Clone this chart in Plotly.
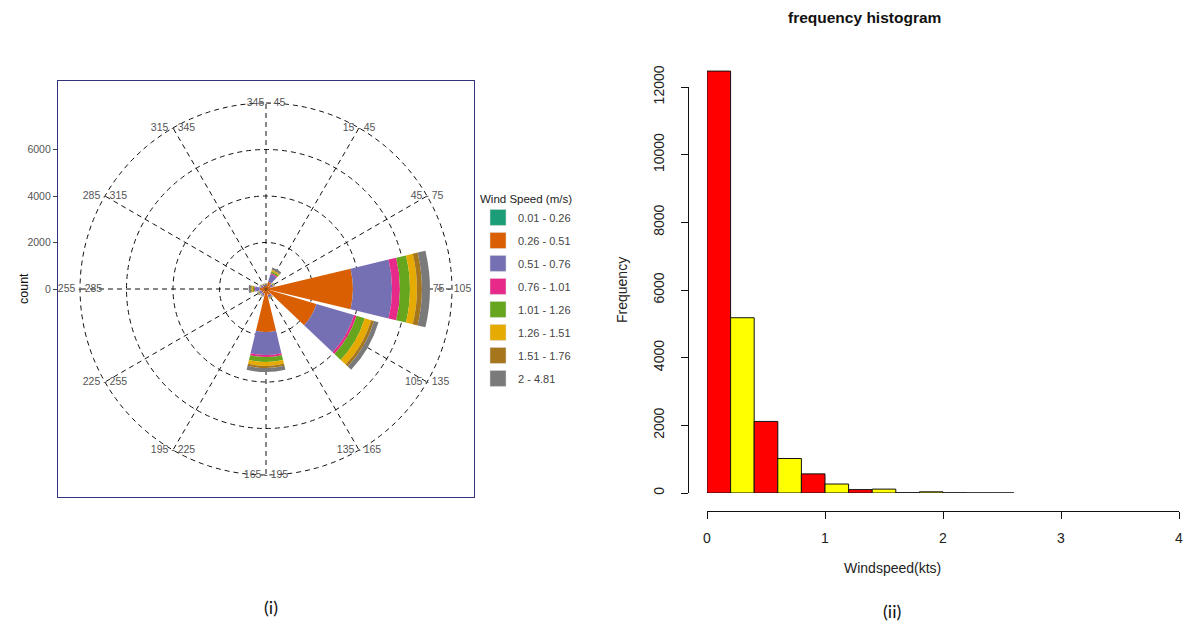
import plotly.graph_objects as go

W, H = 1190, 628

# ---------------- Wind rose data ----------------
sector_centers = [0, 30, 60, 90, 120, 150, 180, 210, 240, 270, 300, 330]
sector_labels = ["345 - 45", "15 - 45", "45 - 75", "75 - 105", "105 - 135", "135 - 165",
                 "165 - 195", "195 - 225", "225 - 255", "255 - 285", "285 - 315", "315 - 345"]
speed_bins = ["0.01 - 0.26", "0.26 - 0.51", "0.51 - 0.76", "0.76 - 1.01",
              "1.01 - 1.26", "1.26 - 1.51", "1.51 - 1.76", "2 - 4.81"]
speed_colors = ["#1B9E77", "#D95F02", "#7570B3", "#E7298A",
                "#66A61E", "#E6AB02", "#A6761D", "#7a7a7a"]
# counts per speed bin, one value per sector (sector order as above)
cnt_001_026 = [10, 20, 15, 40, 30, 20, 30, 15, 15, 20, 10, 10]
cnt_026_051 = [120, 300, 200, 3700, 2230, 250, 1820, 200, 180, 250, 150, 120]
cnt_051_076 = [60, 350, 100, 1680, 1690, 100, 990, 80, 100, 200, 80, 60]
cnt_076_101 = [10, 50, 15, 340, 110, 15, 85, 10, 15, 40, 10, 10]
cnt_101_126 = [15, 80, 25, 430, 370, 25, 215, 15, 25, 60, 15, 15]
cnt_126_151 = [10, 50, 15, 300, 290, 15, 170, 10, 15, 50, 10, 10]
cnt_151_176 = [5, 30, 10, 215, 130, 10, 90, 5, 10, 30, 5, 5]
cnt_2_481 = [20, 80, 20, 345, 200, 15, 170, 15, 40, 100, 20, 20]
speed_counts = [cnt_001_026, cnt_026_051, cnt_051_076, cnt_076_101,
                cnt_101_126, cnt_126_151, cnt_151_176, cnt_2_481]
radial_ticks = [0, 2000, 4000, 6000]
radial_grid = [2000, 4000, 6000]
outer_grid = 8000

# ---------------- Histogram data ----------------
bin_edges = [0.0, 0.2, 0.4, 0.6, 0.8, 1.0, 1.2, 1.4, 1.6, 1.8, 2.0, 2.2, 2.4, 2.6]
hist_counts = [12470, 5180, 2115, 1020, 565, 265, 100, 115, 8, 35, 6, 3, 2]
hist_colors = ["#FF0000", "#FFFF00"]
hist_yticks = [0, 2000, 4000, 6000, 8000, 10000, 12000]
hist_xticks = [0, 1, 2, 3, 4]

# ---------------- geometry ----------------
cx, cy = 266, 289          # rose centre (px)
r_px = 186                  # radius (px) of the outer grid circle
R_MAX = outer_grid * 1.006
r_dom = r_px * R_MAX / outer_grid
box_half = 208

fig = go.Figure()

# panel box + count axis (cartesian)
fig.add_trace(go.Scatter(x=[0], y=[0], mode="markers", marker=dict(opacity=0),
                         hoverinfo="skip", showlegend=False, xaxis="x2", yaxis="y2"))

for i, (name, col) in enumerate(zip(speed_bins, speed_colors)):
    fig.add_trace(go.Barpolar(
        r=speed_counts[i], theta=sector_centers, width=[27] * len(sector_centers),
        name=name, marker=dict(color=col, line=dict(width=0)),
        legendgroup=name, showlegend=False,
    ))
    # legend key (square swatch); its point lies outside the x2 range, so only the key shows
    fig.add_trace(go.Scatter(
        x=[10], y=[0], mode="markers", name=name, legendgroup=name,
        marker=dict(symbol="square", size=16, color=col,
                    line=dict(color="#dddddd", width=0.5)),
        cliponaxis=True, hoverinfo="skip", xaxis="x2", yaxis="y2"))

# outer dashed grid circle
circle_theta = list(range(0, 361, 2))
fig.add_trace(go.Scatterpolar(
    r=[outer_grid] * len(circle_theta), theta=circle_theta, mode="lines",
    line=dict(color="#111111", width=1, dash="5px,4px"),
    showlegend=False, hoverinfo="skip"))

fig.add_trace(go.Scatterpolar(
    r=[outer_grid] * len(sector_centers), theta=sector_centers, text=sector_labels,
    mode="text", textfont=dict(family="Liberation Sans, Arial", size=10.5, color="#555555"),
    showlegend=False, hoverinfo="skip", cliponaxis=False))

# histogram
centers = [(a + b) / 2 for a, b in zip(bin_edges[:-1], bin_edges[1:])]
widths = [b - a for a, b in zip(bin_edges[:-1], bin_edges[1:])]
fig.add_trace(go.Bar(
    x=centers, y=hist_counts, width=widths,
    marker=dict(color=[hist_colors[i % 2] for i in range(len(hist_counts))],
                line=dict(color="#111111", width=1)),
    showlegend=False, xaxis="x3", yaxis="y3"))
fig.add_trace(go.Scatter(x=[0], y=[0], mode="markers", marker=dict(opacity=0),
                         hoverinfo="skip", showlegend=False, xaxis="x3", yaxis="y4"))

px_per = (493 - 87) / 12000.0
y3_top = 55

fig.update_layout(
    template="none",
    width=W, height=H, margin=dict(l=0, r=0, t=0, b=0, pad=0, autoexpand=False),
    paper_bgcolor="white", plot_bgcolor="rgba(0,0,0,0)",
    font=dict(family="Liberation Sans, Arial", color="#222222"),
    polar=dict(
        domain=dict(x=[(cx - r_dom) / W, (cx + r_dom) / W],
                    y=[1 - (cy + r_dom) / H, 1 - (cy - r_dom) / H]),
        bgcolor="rgba(0,0,0,0)",
        barmode="stack",
        radialaxis=dict(range=[0, R_MAX], tickvals=radial_grid, showticklabels=False,
                        ticks="", showline=False, showgrid=True, gridcolor="#111111",
                        gridwidth=1, griddash="5px,4px"),
        angularaxis=dict(direction="clockwise", rotation=90, tickmode="array",
                         tickvals=sector_centers, showticklabels=False, ticks="",
                         showline=False, showgrid=True, gridcolor="#111111",
                         gridwidth=1, griddash="5px,4px"),
    ),
    xaxis2=dict(domain=[(cx - box_half) / W, (cx + box_half) / W], range=[-1, 1],
                showline=True, mirror=True, linecolor="#33337a", linewidth=1.2,
                showgrid=False, zeroline=False, showticklabels=False, ticks="",
                anchor="y2", fixedrange=True, automargin=False),
    yaxis2=dict(domain=[1 - (cy + box_half) / H, 1 - (cy - box_half) / H],
                range=[-box_half * outer_grid / r_px, box_half * outer_grid / r_px],
                showline=True, mirror=True, linecolor="#33337a", linewidth=1.2,
                showgrid=False, zeroline=False, tickvals=radial_ticks,
                ticks="outside", ticklen=4, tickcolor="#444444", tickformat="d",
                tickfont=dict(size=10.5, color="#555555"), anchor="x2", fixedrange=True,
                automargin=False),
    xaxis3=dict(domain=[707 / W, 1179 / W], range=[0, 4], anchor="free",
                position=1 - 511 / H, showline=True, linecolor="#111111", linewidth=1,
                showgrid=False, zeroline=False, tickvals=hist_xticks, ticks="outside",
                ticklen=7, tickcolor="#111111", tickfont=dict(size=14, color="#222222"),
                ticklabelstandoff=7, automargin=False),
    yaxis3=dict(domain=[1 - 493 / H, 1 - y3_top / H],
                range=[0, (493 - y3_top) / px_per], visible=False, anchor="x3",
                automargin=False),
    yaxis4=dict(domain=[1 - 493 / H, 1 - 87 / H], range=[0, 12000], anchor="free",
                position=688 / W, side="left", showline=True, linecolor="#111111",
                linewidth=1, showgrid=False, zeroline=False, tickvals=hist_yticks,
                ticks="outside", ticklen=7, tickcolor="#111111", tickangle=-90,
                tickformat="d", tickfont=dict(size=14, color="#222222"),
                ticklabelstandoff=11, automargin=False),
    legend=dict(x=478 / W, y=1 - 188 / H, xanchor="left", yanchor="top",
                title=dict(text="Wind Speed (m/s)", font=dict(size=11.5, color="#222222")),
                font=dict(size=11, color="#444444"), tracegroupgap=4,
                itemsizing="trace", itemwidth=30,
                bgcolor="rgba(0,0,0,0)"),
    annotations=[
        dict(text="count", x=15 / W, y=1 - 289 / H, xref="paper", yref="paper",
             textangle=-90, showarrow=False, font=dict(size=12.5, color="#111111")),
        dict(text="Frequency", x=622 / W, y=1 - 290 / H, xref="paper", yref="paper",
             textangle=-90, showarrow=False, font=dict(size=14, color="#222222")),
        dict(text="Windspeed(kts)", x=943 / W, y=1 - 578 / H, xref="paper", yref="paper",
             showarrow=False, font=dict(size=14, color="#222222")),
        dict(text="<b>frequency histogram</b>", x=943 / W, y=1 - 18 / H, xref="paper",
             yref="paper", yanchor="middle", showarrow=False,
             font=dict(size=15.5, color="#111111")),
        dict(text="(i)", x=262 / W, y=1 - 607 / H, xref="paper", yref="paper",
             yanchor="middle", showarrow=False,
             font=dict(family="Lato, Liberation Sans", size=18, color="#111111")),
        dict(text="(ii)", x=903 / W, y=1 - 611 / H, xref="paper", yref="paper",
             yanchor="middle", showarrow=False,
             font=dict(family="Lato, Liberation Sans", size=18, color="#111111")),
    ],
)

fig.write_html("out.html")
